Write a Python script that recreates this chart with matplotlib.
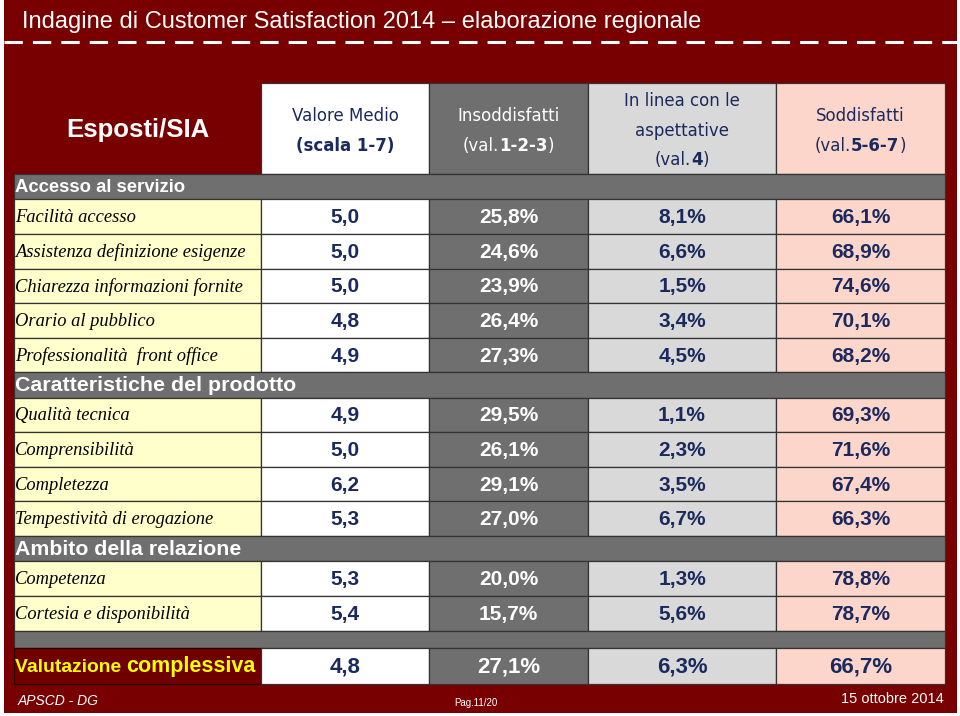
#!/usr/bin/env python3
"""
Customer satisfaction 2014 - regional table (Esposti/SIA), drawn as a slide.
"""

import matplotlib
matplotlib.use("Agg")
import matplotlib.pyplot as plt
import matplotlib.patches as mpatches

# ---- data -------------------------------------------------------------
title = "Indagine di Customer Satisfaction 2014 \u2013 elaborazione regionale"
sections = ["Accesso al servizio", "Caratteristiche del prodotto", "Ambito della relazione"]
items = [
    ["Facilità accesso", "Assistenza definizione esigenze", "Chiarezza informazioni fornite",
     "Orario al pubblico", "Professionalità  front office"],
    ["Qualità tecnica", "Comprensibilità", "Completezza", "Tempestività di erogazione"],
    ["Competenza", "Cortesia e disponibilità"],
]
valore_medio = [5.0, 5.0, 5.0, 4.8, 4.9, 4.9, 5.0, 6.2, 5.3, 5.3, 5.4]
insoddisfatti = [25.8, 24.6, 23.9, 26.4, 27.3, 29.5, 26.1, 29.1, 27.0, 20.0, 15.7]
in_linea = [8.1, 6.6, 1.5, 3.4, 4.5, 1.1, 2.3, 3.5, 6.7, 1.3, 5.6]
soddisfatti = [66.1, 68.9, 74.6, 70.1, 68.2, 69.3, 71.6, 67.4, 66.3, 78.8, 78.7]
overall = [4.8, 27.1, 6.3, 66.7]

RED = "#780000"
GRAY = "#6f6f6f"
LGRAY = "#d9d9d9"
PINK = "#fdd6cb"
YELLOW = "#ffffcc"
NAVY = "#1b2a5e"
LINE = "#333333"


def fmt(v, pct=False):
    s = f"{v:.1f}".replace(".", ",")
    return s + "%" if pct else s


def mixed(fig, ax, x, y, parts, color, size, ha="center", family="DejaVu Sans"):
    """Draw a line made of normal/bold pieces, laid out one after another."""
    renderer = fig.canvas.get_renderer()
    texts = [ax.text(0, y, t, color=color, fontsize=sz if sz else size, family=family,
                     fontweight="bold" if b else "normal", va="baseline", ha="left")
             for t, b, sz in parts]
    inv = ax.transData.inverted()
    widths = []
    for t in texts:
        bb = t.get_window_extent(renderer)
        x0 = inv.transform((bb.x0, bb.y0))[0]
        x1 = inv.transform((bb.x1, bb.y0))[0]
        widths.append(x1 - x0)
    total = sum(widths)
    cur = x - total / 2 if ha == "center" else x
    for t, w in zip(texts, widths):
        t.set_x(cur)
        cur += w


def main():
    fig = plt.figure(figsize=(9.6, 7.16), dpi=100)
    fig.patch.set_facecolor("white")
    ax = fig.add_axes([0, 0, 1, 1])
    ax.set_xlim(0, 960)
    ax.set_ylim(716, 0)
    ax.axis("off")

    # slide background
    ax.add_patch(mpatches.Rectangle((4, 0), 953, 713, facecolor=RED, edgecolor="none"))
    ax.text(22, 22, title, color="white", fontsize=17, family="Liberation Sans",
            va="center", ha="left")
    ax.plot([4, 957], [42, 42], color="white", lw=2.2, ls=(0, (6, 3.3)))

    col_x = [14, 261, 429, 588, 776, 945]
    col_bg = [YELLOW, "white", GRAY, LGRAY, PINK]
    col_fg = ["black", NAVY, "white", NAVY, NAVY]
    centers = [(col_x[i] + col_x[i + 1]) / 2 for i in range(5)]

    def cell(x0, x1, y0, h, fc, ec=LINE):
        ax.add_patch(mpatches.Rectangle((x0, y0), x1 - x0, h, facecolor=fc,
                                        edgecolor=ec, lw=0.9))

    # header
    top, head_h = 83, 91
    for c in range(1, 5):
        cell(col_x[c], col_x[c + 1], top, head_h, col_bg[c])
    ax.text(centers[0], 130, "Esposti/SIA", color="white", fontsize=18.5,
            fontweight="bold", family="Liberation Sans", ha="center", va="center")
    hs = 12
    mixed(fig, ax, centers[1], 121, [("Valore Medio", False, None)], NAVY, hs)
    mixed(fig, ax, centers[1], 151, [("(scala 1-7)", True, None)], NAVY, hs)
    mixed(fig, ax, centers[2], 121, [("Insoddisfatti", False, None)], "white", hs)
    mixed(fig, ax, centers[2], 151, [("(val.", False, None), ("1-2-3", True, None),
                                     (")", False, None)], "white", hs)
    mixed(fig, ax, centers[3], 106, [("In linea con le", False, None)], NAVY, hs)
    mixed(fig, ax, centers[3], 136, [("aspettative", False, None)], NAVY, hs)
    mixed(fig, ax, centers[3], 165, [("(val.", False, None), ("4", True, None),
                                     (")", False, None)], NAVY, hs)
    mixed(fig, ax, centers[4], 121, [("Soddisfatti", False, None)], NAVY, hs)
    mixed(fig, ax, centers[4], 151, [("(val.", False, None), ("5-6-7", True, None),
                                     (")", False, None)], NAVY, hs)

    # body
    sec_h, row_h = 25.3, 34.6
    sec_size = [13.3, 15.4, 15.3]
    y = top + head_h
    k = 0
    for s, name in enumerate(sections):
        cell(col_x[0], col_x[-1], y, sec_h, GRAY)
        ax.text(col_x[0] + 1, y + sec_h / 2 + 1, name, color="white", fontsize=sec_size[s],
                fontweight="bold", family="Liberation Sans", va="center", ha="left")
        y += sec_h
        for lbl in items[s]:
            vals = [valore_medio[k], insoddisfatti[k], in_linea[k], soddisfatti[k]]
            for c in range(5):
                cell(col_x[c], col_x[c + 1], y, row_h, col_bg[c])
            ax.text(col_x[0] + 1, y + row_h / 2 + 1, lbl, color="black", fontsize=13.3,
                    family="Liberation Serif", style="italic", va="center", ha="left")
            for c, v in enumerate(vals, start=1):
                ax.text(centers[c], y + row_h / 2 + 1, fmt(v, pct=c > 1), color=col_fg[c],
                        fontsize=15, fontweight="bold", family="Liberation Sans",
                        ha="center", va="center")
            y += row_h
            k += 1

    # spacer + overall row
    cell(col_x[0], col_x[-1], y, 17, GRAY)
    y += 17
    tot_h = 36
    cell(col_x[0], col_x[1], y, tot_h, "#700000", ec="#2a0000")
    for c in range(1, 5):
        cell(col_x[c], col_x[c + 1], y, tot_h, col_bg[c])
    mixed(fig, ax, col_x[0] + 1, y + tot_h / 2 + 6,
          [("Valutazione ", True, 13.9), ("complessiva", True, 15.5)],
          "#ffff00", 14, ha="left", family="Liberation Sans")
    for c, v in enumerate(overall, start=1):
        ax.text(centers[c], y + tot_h / 2 + 1, fmt(v, pct=c > 1), color=col_fg[c],
                fontsize=16, fontweight="bold", family="Liberation Sans",
                ha="center", va="center")

    # footer
    ax.text(18, 701, "APSCD - DG", color="white", fontsize=10, style="italic",
            family="Liberation Sans", va="center", ha="left")
    ax.text(476, 703, "Pag.11/20", color="white", fontsize=7, family="Liberation Sans",
            va="center", ha="center")
    ax.text(944, 699, "15 ottobre 2014", color="white", fontsize=10.5,
            family="Liberation Sans", va="center", ha="right")

    fig.savefig("out.png", dpi=100, facecolor=fig.get_facecolor())


if __name__ == "__main__":
    main()
